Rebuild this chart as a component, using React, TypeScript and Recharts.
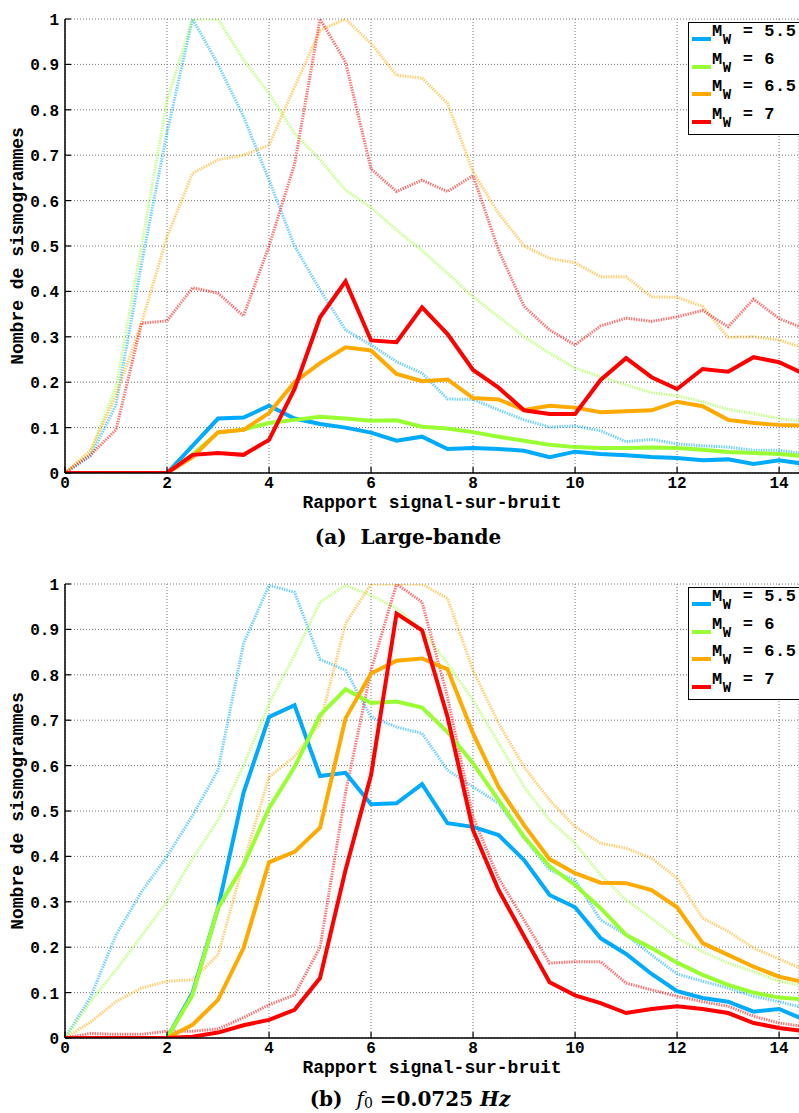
import React from "react"
import { LineChart, Line, XAxis, YAxis, CartesianGrid, Legend } from "recharts"

// rapport signal-sur-bruit (pas de 0.5)
const snr = [0, 0.5, 1, 1.5, 2, 2.5, 3, 3.5, 4, 4.5, 5, 5.5, 6, 6.5, 7, 7.5, 8, 8.5, 9, 9.5, 10, 10.5, 11, 11.5, 12, 12.5, 13, 13.5, 14, 14.5]

const magnitudes = ["5.5", "6", "6.5", "7"]
const colors = ["#00aaff", "#99ff33", "#ffaa00", "#ff0000"]

const xTicks = [0, 2, 4, 6, 8, 10, 12, 14]
const yTicks = [0, 0.1, 0.2, 0.3, 0.4, 0.5, 0.6, 0.7, 0.8, 0.9, 1]

// (a) large-bande : courbes pleines
const aSolid55 = [0, 0, 0, 0, 0, 0.06, 0.12, 0.122, 0.148, 0.12, 0.108, 0.1, 0.089, 0.071, 0.08, 0.053, 0.055, 0.053, 0.049, 0.035, 0.047, 0.042, 0.039, 0.035, 0.033, 0.028, 0.03, 0.02, 0.028, 0.02]
const aSolid6 = [0, 0, 0, 0, 0, 0.04, 0.089, 0.096, 0.11, 0.117, 0.124, 0.12, 0.115, 0.116, 0.102, 0.098, 0.09, 0.08, 0.071, 0.062, 0.057, 0.055, 0.055, 0.056, 0.055, 0.051, 0.046, 0.044, 0.042, 0.037]
const aSolid65 = [0, 0, 0, 0, 0, 0.035, 0.09, 0.095, 0.132, 0.2, 0.242, 0.277, 0.27, 0.218, 0.202, 0.206, 0.165, 0.162, 0.139, 0.148, 0.144, 0.134, 0.136, 0.138, 0.157, 0.147, 0.117, 0.11, 0.106, 0.104]
const aSolid7 = [0, 0, 0, 0, 0, 0.04, 0.044, 0.04, 0.073, 0.185, 0.343, 0.422, 0.292, 0.288, 0.365, 0.306, 0.227, 0.188, 0.138, 0.13, 0.13, 0.205, 0.253, 0.211, 0.185, 0.229, 0.223, 0.255, 0.244, 0.218]

// (a) large-bande : courbes pointillees
const aDot55 = [0, 0.037, 0.15, 0.46, 0.75, 1, 0.9, 0.785, 0.645, 0.5, 0.403, 0.315, 0.282, 0.245, 0.22, 0.163, 0.162, 0.139, 0.117, 0.101, 0.104, 0.093, 0.069, 0.074, 0.064, 0.06, 0.057, 0.05, 0.05, 0.042]
const aDot6 = [0, 0.045, 0.19, 0.5, 0.82, 1, 1, 0.91, 0.836, 0.748, 0.69, 0.623, 0.585, 0.535, 0.49, 0.44, 0.388, 0.344, 0.3, 0.264, 0.231, 0.212, 0.194, 0.177, 0.17, 0.157, 0.14, 0.131, 0.12, 0.113]
const aDot65 = [0, 0.05, 0.17, 0.33, 0.52, 0.66, 0.69, 0.7, 0.722, 0.85, 0.975, 1, 0.946, 0.876, 0.87, 0.814, 0.663, 0.572, 0.5, 0.473, 0.463, 0.432, 0.432, 0.388, 0.387, 0.367, 0.299, 0.3, 0.293, 0.275]
const aDot7 = [0, 0.04, 0.095, 0.33, 0.335, 0.408, 0.396, 0.346, 0.5, 0.68, 1, 0.905, 0.67, 0.62, 0.645, 0.62, 0.655, 0.491, 0.367, 0.315, 0.282, 0.324, 0.341, 0.334, 0.344, 0.358, 0.322, 0.383, 0.34, 0.318]

// (b) f0 = 0.0725 Hz : courbes pleines
const bSolid55 = [0, 0, 0, 0, 0, 0.099, 0.286, 0.54, 0.707, 0.733, 0.577, 0.584, 0.515, 0.517, 0.559, 0.473, 0.465, 0.447, 0.392, 0.315, 0.288, 0.22, 0.185, 0.141, 0.103, 0.088, 0.08, 0.058, 0.064, 0.04]
const bSolid6 = [0, 0, 0, 0, 0, 0.095, 0.286, 0.381, 0.506, 0.597, 0.711, 0.768, 0.738, 0.741, 0.728, 0.674, 0.605, 0.524, 0.443, 0.378, 0.337, 0.286, 0.227, 0.198, 0.166, 0.139, 0.117, 0.1, 0.089, 0.085]
const bSolid65 = [0, 0, 0, 0, 0, 0.029, 0.084, 0.198, 0.387, 0.41, 0.463, 0.704, 0.803, 0.831, 0.836, 0.812, 0.671, 0.553, 0.469, 0.394, 0.363, 0.342, 0.341, 0.326, 0.288, 0.209, 0.183, 0.157, 0.135, 0.123]
const bSolid7 = [0, 0, 0, 0, 0, 0.003, 0.012, 0.028, 0.04, 0.062, 0.132, 0.37, 0.579, 0.935, 0.898, 0.707, 0.458, 0.326, 0.224, 0.123, 0.094, 0.077, 0.055, 0.064, 0.07, 0.064, 0.055, 0.033, 0.022, 0.015]

// (b) f0 = 0.0725 Hz : courbes pointillees
const bDot55 = [0, 0.09, 0.227, 0.322, 0.4, 0.49, 0.59, 0.869, 0.997, 0.982, 0.834, 0.81, 0.707, 0.685, 0.671, 0.59, 0.553, 0.517, 0.44, 0.37, 0.348, 0.26, 0.227, 0.183, 0.141, 0.125, 0.11, 0.092, 0.08, 0.066]
const bDot6 = [0, 0.08, 0.15, 0.225, 0.3, 0.395, 0.48, 0.6, 0.737, 0.843, 0.96, 0.997, 0.975, 0.946, 0.898, 0.825, 0.744, 0.65, 0.553, 0.48, 0.429, 0.359, 0.304, 0.264, 0.22, 0.19, 0.165, 0.146, 0.125, 0.115]
const bDot65 = [0, 0.035, 0.08, 0.11, 0.125, 0.128, 0.183, 0.385, 0.575, 0.62, 0.693, 0.913, 1, 1, 1, 0.968, 0.81, 0.693, 0.597, 0.524, 0.465, 0.429, 0.418, 0.396, 0.352, 0.264, 0.235, 0.198, 0.174, 0.15]
const bDot7 = [0, 0.01, 0.008, 0.008, 0.015, 0.015, 0.02, 0.045, 0.073, 0.095, 0.2, 0.54, 0.81, 1, 0.96, 0.751, 0.487, 0.352, 0.26, 0.165, 0.168, 0.168, 0.121, 0.106, 0.092, 0.08, 0.07, 0.048, 0.033, 0.025]

const mono = "'Liberation Mono', 'DejaVu Sans Mono', monospace"
const xMax = 14.39

function buildRows(solid: number[][], dotted: number[][]) {
  return snr.map((x, j) => {
    const row: Record<string, number> = { snr: x }
    solid.forEach((s, i) => (row["s" + i] = s[j]))
    dotted.forEach((d, i) => (row["d" + i] = d[j]))
    return row
  })
}

const rowsA = buildRows([aSolid55, aSolid6, aSolid65, aSolid7], [aDot55, aDot6, aDot65, aDot7])
const rowsB = buildRows([bSolid55, bSolid6, bSolid65, bSolid7], [bDot55, bDot6, bDot65, bDot7])

function BottomTick(props: any) {
  const { x, y, payload } = props
  return (
    <g>
      <line x1={x} y1={y} x2={x} y2={y - 6} stroke="#000" strokeWidth={1.2} />
      <text x={x} y={y + 15} textAnchor="middle" fontFamily={mono} fontWeight="bold" fontSize={16} fill="#000">
        {payload.value}
      </text>
    </g>
  )
}

function TopTick(props: any) {
  const { x, y } = props
  return <line x1={x} y1={y} x2={x} y2={y + 6} stroke="#000" strokeWidth={1.2} />
}

function LeftTick(props: any) {
  const { x, y, payload } = props
  const v = payload.value
  const txt = v === 0 || v === 1 ? String(v) : v.toFixed(1)
  return (
    <g>
      <line x1={x} y1={y} x2={x + 6} y2={y} stroke="#000" strokeWidth={1.2} />
      <text x={x - 6} y={y + 6} textAnchor="end" fontFamily={mono} fontWeight="bold" fontSize={16} fill="#000">
        {txt}
      </text>
    </g>
  )
}

function XTitle(props: any) {
  const vb = props.viewBox
  return (
    <text x={vb.x + vb.width / 2} y={vb.y + 34.5} textAnchor="middle" fontFamily={mono} fontWeight="bold" fontSize={18} fill="#000">
      Rapport signal-sur-bruit
    </text>
  )
}

function YTitle(props: any) {
  const vb = props.viewBox
  const cy = vb.y + vb.height / 2
  return (
    <text x={18} y={cy} transform={`rotate(-90, 18, ${cy})`} textAnchor="middle" dominantBaseline="central" fontFamily={mono} fontWeight="bold" fontSize={18} fill="#000">
      Nombre de sismogrammes
    </text>
  )
}

function MwLegend(props: any) {
  const items = (props.payload || []).filter((p: any) => p.type !== "none")
  return (
    <div style={{ border: "1.5px solid #000", background: "#fff", width: 130, height: 113, boxSizing: "border-box", paddingTop: 1, fontFamily: mono, fontWeight: "bold", fontSize: 17, letterSpacing: 0.6, color: "#000" }}>
      {items.map((p: any) => (
        <div key={p.value} style={{ position: "relative", height: 27.5 }}>
          <span style={{ position: "absolute", left: 3, top: 13, width: 19, height: 4, background: p.color }} />
          <span style={{ position: "absolute", left: 23, top: -1, whiteSpace: "pre", lineHeight: "18px" }}>
            M<span style={{ position: "relative", top: 8, fontSize: 14 }}>W</span>{" = " + p.value}
          </span>
        </div>
      ))}
    </div>
  )
}

function Panel({ top, rows }: { top: number; rows: Record<string, number>[] }) {
  const axisLine = { stroke: "#000", strokeWidth: 1.5 }
  return (
    <div style={{ position: "absolute", left: 0, top }}>
      <LineChart width={799} height={517} data={rows} margin={{ top: 19, right: 0, bottom: 0, left: 0 }}>
        <CartesianGrid stroke="#777" strokeDasharray="1 2" strokeWidth={1} />
        <XAxis dataKey="snr" type="number" domain={[0, xMax]} allowDataOverflow ticks={xTicks} height={44} tickSize={0} tickMargin={0} tickLine={false} axisLine={axisLine} tick={(p: any) => <BottomTick {...p} />} label={(p: any) => <XTitle {...p} />} />
        <XAxis xAxisId="top" orientation="top" dataKey="snr" type="number" domain={[0, xMax]} allowDataOverflow ticks={xTicks} height={0} tickSize={0} tickMargin={0} tickLine={false} axisLine={axisLine} tick={(p: any) => <TopTick {...p} />} />
        <YAxis type="number" domain={[0, 1]} allowDataOverflow ticks={yTicks} width={65} tickSize={0} tickMargin={0} tickLine={false} axisLine={axisLine} tick={(p: any) => <LeftTick {...p} />} label={(p: any) => <YTitle {...p} />} />
        {magnitudes.map((m, i) => (
          <Line key={"d" + i} dataKey={"d" + i} type="linear" stroke={colors[i]} strokeOpacity={0.55} strokeWidth={3} strokeDasharray="1.4 1.1" dot={false} activeDot={false} legendType="none" isAnimationActive={false} />
        ))}
        {magnitudes.map((m, i) => (
          <Line key={"s" + i} dataKey={"s" + i} name={m} type="linear" stroke={colors[i]} strokeWidth={4} dot={false} activeDot={false} isAnimationActive={false} />
        ))}
        <Legend layout="vertical" align="center" verticalAlign="middle" content={(p: any) => <MwLegend {...p} />} wrapperStyle={{ left: 688, top: 22, width: 130, height: 113 }} />
      </LineChart>
    </div>
  )
}

const captionStyle: React.CSSProperties = {
  position: "absolute",
  left: 0,
  textAlign: "center",
  fontFamily: "'DejaVu Serif', 'Liberation Serif', serif",
  fontWeight: "bold",
  fontSize: 20,
  lineHeight: "22px",
  color: "#000",
  whiteSpace: "pre",
}

export default function App() {
  return (
    <div style={{ position: "absolute", left: 0, top: 0, width: 799, height: 1113, overflow: "hidden", background: "#fff" }}>
      <Panel top={0} rows={rowsA} />
      <div style={{ ...captionStyle, top: 526, width: 816 }}>(a)  Large-bande</div>
      <Panel top={565} rows={rowsB} />
      <div style={{ ...captionStyle, top: 1088, width: 820 }}>
        (b)  <span style={{ fontStyle: "italic", fontWeight: "normal" }}>f</span>
        <span style={{ fontWeight: "normal", fontSize: 14, position: "relative", top: 2 }}>0</span> =0.0725 <span style={{ fontStyle: "italic" }}>Hz</span>
      </div>
    </div>
  )
}
